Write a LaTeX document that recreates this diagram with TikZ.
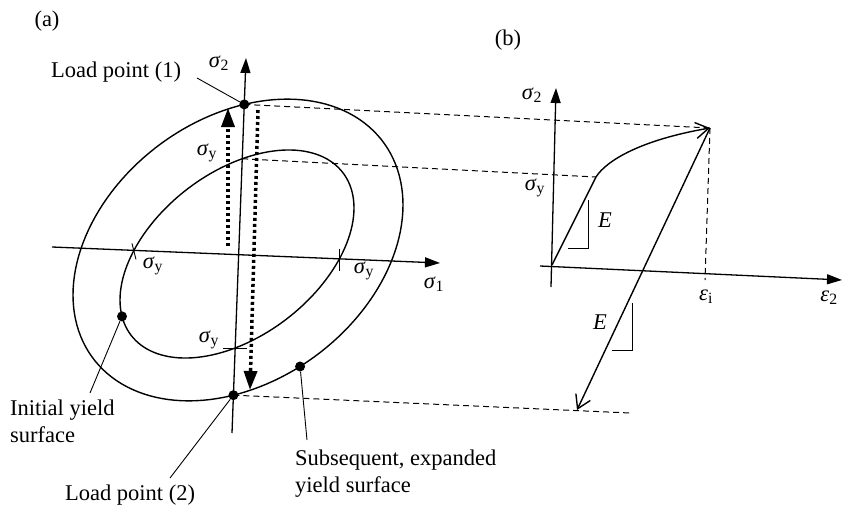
\documentclass[tikz,border=0pt]{standalone}
\usepackage{fontspec}
\setmainfont{Liberation Serif}
\usetikzlibrary{arrows.meta,intersections}
\newcommand\gsig{\textit{σ}}
\newcommand\geps{\textit{ε}}
\begin{document}
\begin{tikzpicture}[x=1pt,y=-1pt,
  lbl/.style={font=\fontsize{22.5}{27}\selectfont, inner sep=0pt},
  curve/.style={line width=1.4pt},
  axis/.style={line width=1.3pt,-{Triangle[width=10pt,length=15pt]}},
  guide/.style={line width=1pt,dash pattern=on 6pt off 4pt},
  dots/.style={line width=3.5pt,dash pattern=on 3pt off 3pt,-{Triangle[width=13pt,length=19pt]}},
  thinl/.style={line width=0.9pt},
  dotpt/.style={circle,fill,inner sep=0pt,minimum size=10pt},
  openarr/.style={-{Straight Barb[width=16pt,length=13pt]}}]
\useasboundingbox (0,0) rectangle (843,511);
% ---------- panel (a)
\coordinate (s1a) at (52,247);
\coordinate (s1b) at (440,263);
\coordinate (s2a) at (232,433);
\coordinate (s2b) at (246,58);
\draw[axis,name path=ax1] (s1a) -- (s1b);
\draw[axis,name path=ax2] (s2a) -- (s2b);
\draw[curve,name path=inner] plot[variable=\t,domain=0:360,samples=145]
  ({237+117*cos(\t)},{254-46*cos(\t)-93.3*sin(\t)}) -- cycle;
\draw[curve,name path=outer] plot[variable=\t,domain=0:360,samples=145]
  ({238+165*cos(\t)},{250-45*cos(\t)-144*sin(\t)}) -- cycle;
\path[name intersections={of=outer and ax2,name=O,sort by=ax2}];
\path[name intersections={of=inner and ax2,name=I,sort by=ax2}];
\path[name intersections={of=inner and ax1,name=H,sort by=ax1}];
% ticks at sigma_y
\draw[thinl] ([shift={(-2,-7)}]H-1) -- ([shift={(2,9)}]H-1);
\draw[thinl] ([shift={(0,-10)}]H-2) -- ([shift={(0,12)}]H-2);
\draw[thinl] ([shift={(-12,0)}]I-1) -- ([shift={(12,0)}]I-1);
% points on surfaces
\coordinate (idot) at ({237+117*cos(190.6)},{254-46*cos(190.6)-93.3*sin(190.6)});
\coordinate (odot) at ({238+165*cos(292.1)},{250-45*cos(292.1)-144*sin(292.1)});
% dotted load paths
\coordinate (up0) at (228,246);
\coordinate (up1) at (228,108);
\coordinate (dn0) at (258,110);
\coordinate (dn1) at (250,390);
\draw[dots] (up0) -- (up1);
\draw[dots] (dn0) -- (dn1);
% ---------- panel (b)
\coordinate (Ob) at (552,265);
\coordinate (Yb) at (596,177);
\coordinate (T) at (710,128);
\coordinate (Bb) at (577,410);
\coordinate (Be) at (630,413);
\coordinate (Te) at (705,280);
\coordinate (e0) at (540,266);
\coordinate (e1) at (842,280);
\coordinate (v0) at (551,287);
\coordinate (v1) at (556,88);
\draw[axis] (e0) -- (e1);
\draw[axis] (v0) -- (v1);
\draw[guide] (O-2) -- (T);
\draw[guide] (I-2) -- (Yb);
\draw[guide] (O-1) -- (Be);
\draw[guide] (T) -- (Te);
\draw[curve,openarr] (Ob) -- (Yb) .. controls (606,161) and (640,140) .. (T);
\draw[curve,openarr] (T) -- (Bb);
\draw[thinl] (588,200) -- (588,248) -- (568,248);
\draw[thinl] (632,303) -- (632,350) -- (612,350);
% dots and leaders
\node[dotpt] (lp1) at (O-2) {};
\node[dotpt] (lp2) at (O-1) {};
\node[dotpt] (d1) at (idot) {};
\node[dotpt] (d2) at (odot) {};
\coordinate (l1) at (197,78);
\coordinate (l2) at (90,393);
\coordinate (l3) at (170,478);
\coordinate (l4) at (307,440);
\draw[thinl] (l1) -- (lp1);
\draw[thinl] (d1) -- (l2);
\draw[thinl] (lp2) -- (l3);
\draw[thinl] (d2) -- (l4);
% labels
\node[lbl] (ta) at (47,21) {(a)};
\node[lbl] (tb) at (508,40) {(b)};
\node[lbl] (tlp1) at (116,72) {Load point (1)};
\node[lbl] (ts2a) at (219,63) {\gsig\textsubscript{2}};
\node[lbl] (tsyt) at (207,153) {\gsig\textsubscript{y}};
\node[lbl] (tsyl) at (153,266) {\gsig\textsubscript{y}};
\node[lbl] (tsyr) at (364,271) {\gsig\textsubscript{y}};
\node[lbl] (tsyb) at (209,340) {\gsig\textsubscript{y}};
\node[lbl] (ts1) at (434,284) {\gsig\textsubscript{1}};
\node[lbl,anchor=north west,align=left] (tiy) at (10,400) {Initial yield\\surface};
\node[lbl] (tlp2) at (130,495) {Load point (2)};
\node[lbl,anchor=north west,align=left] (tsub) at (295,450) {Subsequent, expanded\\yield surface};
\node[lbl] (ts2b) at (532,95) {\gsig\textsubscript{2}};
\node[lbl] (tsyB) at (535,188) {\gsig\textsubscript{y}};
\node[lbl] (tE1) at (605,220) {\textit{E}};
\node[lbl] (tE2) at (600,322) {\textit{E}};
\node[lbl] (tei) at (706,297) {\geps\textsubscript{i}};
\node[lbl] (te2) at (829,298) {\geps\textsubscript{2}};
\end{tikzpicture}
\end{document}
